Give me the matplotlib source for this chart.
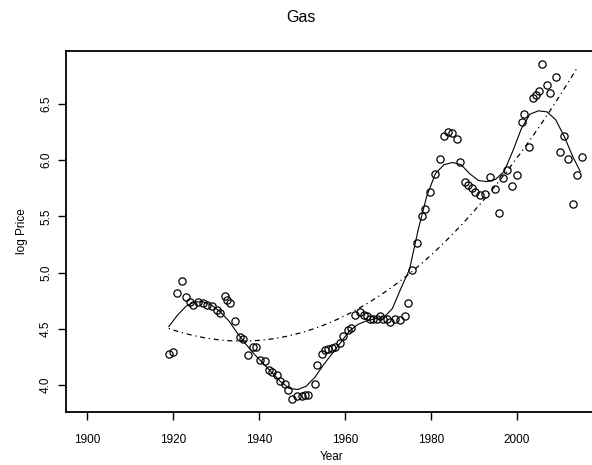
import numpy as np
import matplotlib
matplotlib.use("Agg")
import matplotlib.pyplot as plt

plt.rcParams['font.family'] = ['Liberation Sans', 'DejaVu Sans']

years = [1919, 1920, 1921, 1922, 1923, 1924, 1924.7, 1925.9, 1927, 1928, 1929, 1930.2, 1931,
         1932.1, 1932.6, 1933.3, 1934.3, 1935.5, 1936.3, 1937.5, 1938.5, 1939.3, 1940.2,
         1941.4, 1942.2, 1943, 1944.1, 1944.9, 1946, 1946.8, 1947.6, 1948.8, 1949.9, 1950.7,
         1951.5, 1953.0, 1953.4, 1954.6, 1955.3, 1956.1, 1956.9, 1957.7, 1958.8, 1959.6,
         1960.8, 1961.3, 1962.3, 1963.5, 1964.3, 1965.0, 1965.8, 1966.6, 1967.4, 1968.1,
         1968.9, 1969.7, 1970.5, 1971.6, 1972.8, 1974.0, 1974.7, 1975.5, 1976.7, 1977.8,
         1978.6, 1979.8, 1981.0, 1982.0, 1982.9, 1984.0, 1984.8, 1986.0, 1986.8, 1987.9,
         1988.7, 1989.5, 1990.2, 1991.4, 1992.6, 1993.7, 1994.9, 1995.7, 1996.8, 1997.6,
         1998.8, 1999.9, 2001.1, 2001.7, 2002.9, 2003.8, 2004.3, 2005.0, 2005.7, 2006.9,
         2007.7, 2009.1, 2010.0, 2011.0, 2011.9, 2013.0, 2014.0, 2015.0]
log_price = [4.28, 4.29, 4.82, 4.93, 4.78, 4.74, 4.71, 4.74, 4.73, 4.71, 4.70, 4.67, 4.64,
             4.79, 4.76, 4.73, 4.57, 4.43, 4.41, 4.27, 4.34, 4.34, 4.22,
             4.21, 4.13, 4.12, 4.09, 4.04, 4.01, 3.96, 3.88, 3.90, 3.90, 3.91,
             3.91, 4.01, 4.18, 4.28, 4.31, 4.32, 4.33, 4.34, 4.37, 4.44,
             4.49, 4.51, 4.62, 4.65, 4.62, 4.61, 4.59, 4.59, 4.59, 4.61,
             4.59, 4.59, 4.56, 4.59, 4.58, 4.61, 4.73, 5.02, 5.26, 5.50,
             5.57, 5.72, 5.88, 6.01, 6.22, 6.25, 6.24, 6.19, 5.98, 5.81,
             5.78, 5.75, 5.72, 5.69, 5.70, 5.85, 5.74, 5.53, 5.84, 5.91,
             5.77, 5.87, 6.34, 6.41, 6.12, 6.55, 6.58, 6.62, 6.86, 6.67,
             6.60, 6.74, 6.07, 6.22, 6.01, 5.61, 5.87, 6.03]

# loess smooth
smooth_years = [1919, 1921, 1923, 1925, 1927, 1929, 1931, 1933, 1935, 1937, 1939, 1941, 1943,
                1945, 1947, 1949, 1951, 1953, 1955, 1957, 1959, 1961, 1963, 1965, 1967, 1969,
                1971, 1973, 1975, 1977, 1979, 1981, 1983, 1985, 1987, 1989, 1991, 1993, 1995,
                1997, 1999, 2001, 2003, 2005, 2007, 2009, 2011, 2013, 2014.7]
smooth_vals = [4.52, 4.62, 4.70, 4.74, 4.74, 4.71, 4.65, 4.57, 4.46, 4.36, 4.27, 4.19, 4.11,
               4.03, 3.97, 3.96, 3.99, 4.07, 4.18, 4.28, 4.38, 4.48, 4.54, 4.57, 4.59, 4.60,
               4.68, 4.86, 5.03, 5.38, 5.68, 5.88, 5.96, 5.98, 5.96, 5.88, 5.82, 5.81, 5.83,
               5.90, 6.08, 6.28, 6.41, 6.44, 6.43, 6.36, 6.21, 6.03, 5.90]

# parametric trend (dot-dash)
trend_years = [1919, 1927, 1935, 1943, 1951, 1961, 1968, 1975, 1983.6, 1991.4, 1996, 2003, 2009.2, 2014]
trend_vals = [4.49, 4.43, 4.40, 4.42, 4.49, 4.62, 4.78, 5.01, 5.26, 5.58, 5.82, 6.25, 6.56, 6.77]

xticks = [1900, 1920, 1940, 1960, 1980, 2000]
yticks = [4.0, 4.5, 5.0, 5.5, 6.0, 6.5]

W, H = 592, 465
fig = plt.figure(figsize=(W / 100, H / 100), dpi=100)
ax = fig.add_axes([66 / W, (H - 412) / H, 531 / W, 361 / H])

ax.plot(years, log_price, linestyle='none', marker='o', markersize=5.2,
        markerfacecolor='none', markeredgecolor='black', markeredgewidth=0.9)
ax.plot(smooth_years, smooth_vals, color='black', lw=0.8)

coef = np.polyfit(trend_years, trend_vals, 3)
fx = np.linspace(trend_years[0], trend_years[-1], 200)
ax.plot(fx, np.polyval(coef, fx), color='black', lw=0.9, linestyle=(0, (1, 3, 4, 3)))

ax.set_xlim(1895.1, 2018.6)
ax.set_ylim(3.760, 6.972)
ax.set_xticks(xticks)
ax.set_xticklabels([str(t) for t in xticks])
ax.set_yticks(yticks)
ax.set_yticklabels([f"{t:.1f}" for t in yticks], rotation=90, va='center')
ax.tick_params(axis='both', length=6, width=1, labelsize=8.5, color='black')
ax.tick_params(axis='x', pad=10)
ax.tick_params(axis='y', pad=4)
for s in ax.spines.values():
    s.set_linewidth(1.3)

fig.text(332 / W, 1 - 457 / H, 'Year', fontsize=8.5, ha='center', va='center')
fig.text(22 / W, 1 - 231 / H, 'log Price', rotation=90, fontsize=8.5, ha='center', va='center')
fig.text(301 / W, 1 - 18 / H, 'Gas', fontsize=11.5, ha='center', va='center')

fig.savefig('out.png', dpi=100)
